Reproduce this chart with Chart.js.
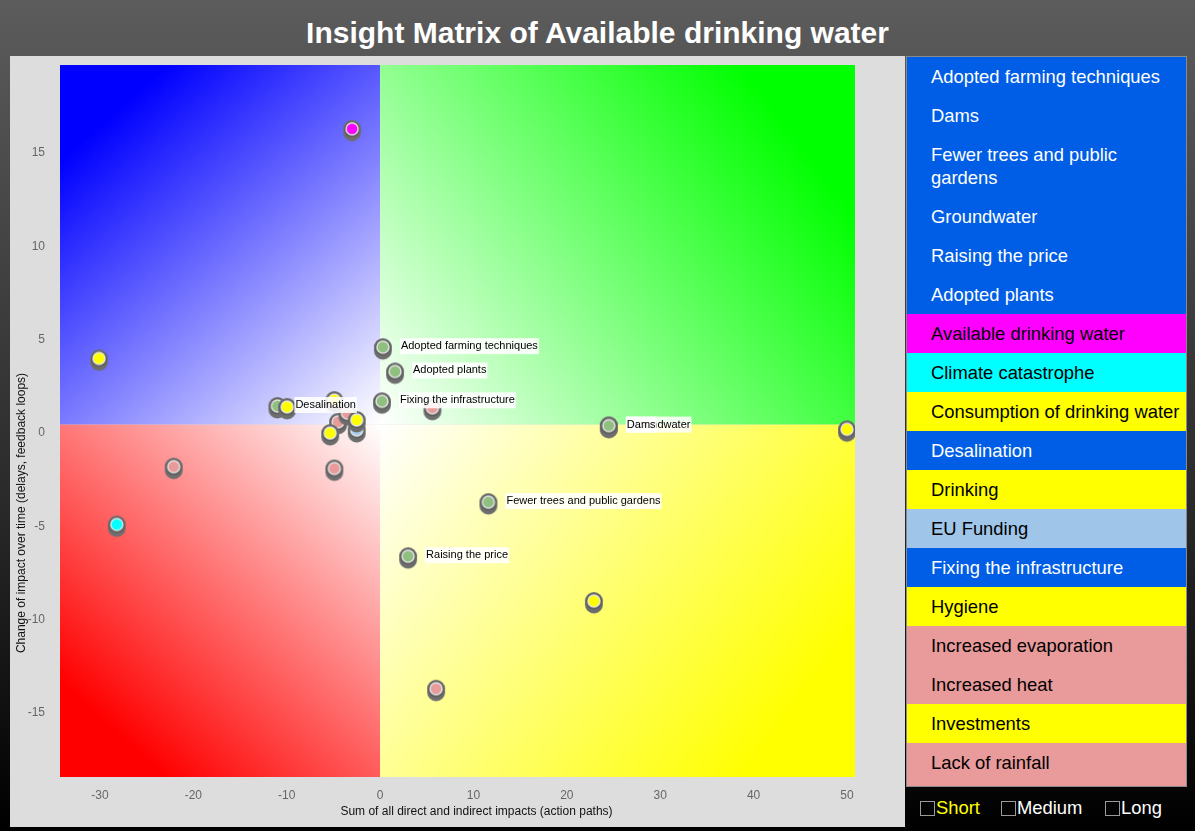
<!DOCTYPE html>
<html>
<head>
<meta charset="utf-8">
<script src="https://cdn.jsdelivr.net/npm/chart.js@4/dist/chart.umd.min.js"></script>
<style>
  html, body { margin: 0; padding: 0; }
  body {
    width: 1195px; height: 831px; overflow: hidden; position: relative;
    background: linear-gradient(to bottom, #5c5c5c 0%, #2a2a2a 60%, #000 100%);
    font-family: "Liberation Sans", Arial, Helvetica, sans-serif;
  }
  #title {
    position: absolute; left: 0; top: 13px; width: 1195px; text-align: center;
    color: #fff; font-weight: bold; font-size: 30px; line-height: 40px;
  }
  #panel {
    position: absolute; left: 10px; top: 56px; width: 895px; height: 771px;
    background: #dddddd;
  }
  #wrap { position: absolute; left: 10px; top: 52px; width: 895px; height: 775px; }
  #legend {
    position: absolute; left: 906px; top: 56px; width: 281px; height: 731px;
    border: 1px solid #8a8a8a; box-sizing: border-box; overflow: hidden;
  }
  .row {
    padding: 8px 2px 8px 24px; line-height: 23px; font-size: 18.4px;
  }
  #boxes { position: absolute; top: 797px; left: 0; font-size: 18.4px; line-height: 22px; }
  .cb { position: absolute; white-space: nowrap; color: #fff; }
  .cb i {
    display: inline-block; width: 15px; height: 15px; border: 1px solid #9a9a9a;
    box-sizing: border-box; vertical-align: -2px; margin-right: 1px;
  }
</style>
</head>
<body>
<div id="title">Insight Matrix of Available drinking water</div>
<div id="panel"></div>
<div id="wrap"><canvas id="matrix"></canvas></div>
<div id="legend"></div>
<div id="boxes"></div>
<script>
// ---- data ----
const greenNames = ['Adopted farming techniques', 'Dams', 'Fewer trees and public gardens', 'Groundwater',
                    'Raising the price', 'Adopted plants', 'Desalination', 'Fixing the infrastructure'];
const greenX = [0.3, 24.5, 11.6, 24.5, 3.0, 1.6, -11.0, 0.2];
const greenY = [4.6, 0.4, -3.7, 0.4, -6.6, 3.3, 1.45, 1.7];

const yellowX = [-30.1, 50.0, 22.9, -4.9, -2.5, -5.35, -9.96];
const yellowY = [4.0, 0.2, -9.0, 1.77, 0.7, 0.0, 1.4];

const pinkX = [-22.1, -4.9, 5.6, 6.0, -4.5, -3.5];
const pinkY = [-1.8, -1.9, 1.35, -13.7, 0.6, 1.07];

const euX = [-2.5], euY = [0.16];            // EU Funding
const climateX = [-28.2], climateY = [-4.9]; // Climate catastrophe
const waterX = [-3.0], waterY = [16.3];      // Available drinking water

const xTitle = 'Sum of all direct and indirect impacts (action paths)';
const yTitle = 'Change of impact over time (delays, feedback loops)';

const legendNames = ['Adopted farming techniques', 'Dams', 'Fewer trees and public gardens', 'Groundwater',
  'Raising the price', 'Adopted plants', 'Available drinking water', 'Climate catastrophe',
  'Consumption of drinking water', 'Desalination', 'Drinking', 'EU Funding', 'Fixing the infrastructure',
  'Hygiene', 'Increased evaporation', 'Increased heat', 'Investments', 'Lack of rainfall'];
const legendColors = ['#005ee6', '#005ee6', '#005ee6', '#005ee6', '#005ee6', '#005ee6', '#ff00ff', '#00ffff',
  '#ffff00', '#005ee6', '#ffff00', '#9fc5e8', '#005ee6', '#ffff00', '#e99a9a', '#e99a9a', '#ffff00', '#e99a9a'];
const horizons = ['Short', 'Medium', 'Long'];

// ---- legend panel ----
const legendEl = document.getElementById('legend');
legendEl.style.background = legendColors[legendColors.length - 1];
legendNames.forEach(function(name, i) {
  const row = document.createElement('div');
  row.className = 'row';
  row.textContent = name;
  row.style.background = legendColors[i];
  row.style.color = legendColors[i] === '#005ee6' ? '#fff' : '#000';
  legendEl.appendChild(row);
});
const boxLeft = [920, 1001, 1105];
const boxesEl = document.getElementById('boxes');
horizons.forEach(function(h, i) {
  const s = document.createElement('span');
  s.className = 'cb';
  s.style.left = boxLeft[i] + 'px';
  s.innerHTML = '<i></i>' + h;
  if (i === 0) s.style.color = '#ffff00';
  boxesEl.appendChild(s);
});

// ---- markers: colored dot with a grey "button" shadow ----
function marker(color) {
  const c = document.createElement('canvas');
  c.width = 24; c.height = 30;
  const g = c.getContext('2d');
  g.fillStyle = '#6e6e6e';
  g.beginPath(); g.arc(12, 18.5, 9, 0, Math.PI * 2); g.fill();
  g.beginPath(); g.arc(12, 15, 9, 0, Math.PI * 2); g.fill();
  g.fillStyle = '#5e5e5e';
  g.beginPath(); g.arc(12, 15.5, 8, 0, Math.PI * 2); g.fill();
  g.fillStyle = color;
  g.strokeStyle = 'rgba(235,235,235,0.9)';
  g.lineWidth = 1.5;
  g.beginPath(); g.arc(12, 15, 6, 0, Math.PI * 2); g.fill(); g.stroke();
  return c;
}

function pts(xs, ys) {
  return xs.map(function(x, i) { return { x: x, y: ys[i] }; });
}
function ds(label, xs, ys, color) {
  return { label: label, data: pts(xs, ys), pointStyle: marker(color), pointRadius: 12, showLine: false };
}

// ---- quadrant background ----
const quadrants = {
  id: 'quadrants',
  beforeDatasetsDraw(chart) {
    const a = chart.chartArea, ctx = chart.ctx;
    const cx = chart.scales.x.getPixelForValue(0);
    const cy = chart.scales.y.getPixelForValue(0.45);
    function quad(x0, y0, x1, y1, ox, oy, color) {
      const gr = ctx.createLinearGradient(ox, oy, cx, cy);
      gr.addColorStop(0, color);
      gr.addColorStop(0.15, color);
      gr.addColorStop(1, '#ffffff');
      ctx.fillStyle = gr;
      ctx.fillRect(x0, y0, x1 - x0, y1 - y0);
    }
    ctx.save();
    quad(a.left, a.top, cx, cy, a.left, a.top, '#0000ff');
    quad(cx, a.top, a.right, cy, a.right, a.top, '#00ff00');
    quad(a.left, cy, cx, a.bottom, a.left, a.bottom, '#ff0000');
    quad(cx, cy, a.right, a.bottom, a.right, a.bottom, '#ffff00');
    ctx.restore();
  }
};

// ---- labels next to the green factors + axis titles ----
const labels = {
  id: 'labels',
  afterDatasetsDraw(chart) {
    const ctx = chart.ctx;
    const meta = chart.getDatasetMeta(2);
    ctx.save();
    ctx.font = '11px "Liberation Sans", Arial, sans-serif';
    ctx.textBaseline = 'middle';
    for (let i = meta.data.length - 1; i >= 0; i--) {
      const p = meta.data[i];
      const tx = p.x + 18, ty = p.y - 1;
      const w = ctx.measureText(greenNames[i]).width;
      ctx.fillStyle = 'rgba(255,255,255,0.88)';
      ctx.fillRect(tx - 1, ty - 8, w + 2, 16);
      ctx.fillStyle = '#000';
      ctx.fillText(greenNames[i], tx, ty);
    }
    ctx.restore();
  },
  afterDraw(chart) {
    const ctx = chart.ctx, a = chart.chartArea;
    ctx.save();
    ctx.font = '12px "Liberation Sans", Arial, sans-serif';
    ctx.fillStyle = '#111';
    ctx.textAlign = 'center';
    ctx.textBaseline = 'middle';
    ctx.fillText(xTitle, (a.left + a.right) / 2 + 19, a.bottom + 35);
    ctx.translate(12, (a.top + a.bottom) / 2 + 92);
    ctx.rotate(-Math.PI / 2);
    ctx.fillText(yTitle, 0, 0);
    ctx.restore();
  }
};

const tickFont = { family: '"Liberation Sans", Arial, sans-serif', size: 12 };

new Chart(document.getElementById('matrix'), {
  type: 'scatter',
  data: {
    datasets: [
      ds('yellow', yellowX, yellowY, '#ffff00'),
      ds('pink', pinkX, pinkY, '#e99a9a'),
      ds('factors', greenX, greenY, '#8fc07f'),
      ds('EU Funding', euX, euY, '#a8cdf0'),
      ds('Climate catastrophe', climateX, climateY, '#00ffff'),
      ds('Available drinking water', waterX, waterY, '#ff00ff')
    ]
  },
  options: {
    responsive: true,
    maintainAspectRatio: false,
    animation: false,
    events: [],
    layout: { padding: { top: 5, right: 50, left: 0, bottom: 0 } },
    plugins: { legend: { display: false }, tooltip: { enabled: false } },
    scales: {
      x: {
        type: 'linear', min: -34.28, max: 50.86,
        grid: { display: false, drawTicks: false }, border: { display: false },
        ticks: { stepSize: 10, includeBounds: false, padding: 11, color: '#666', font: tickFont },
        afterFit(s) { s.height = 50; s.paddingLeft = 0; s.paddingRight = 0; }
      },
      y: {
        type: 'linear', min: -18.43, max: 19.72,
        grid: { display: false, drawTicks: false }, border: { display: false },
        ticks: { stepSize: 5, includeBounds: false, padding: 15, color: '#666', font: tickFont },
        afterFit(s) { s.width = 50; s.paddingTop = 0; s.paddingBottom = 0; }
      }
    }
  },
  plugins: [quadrants, labels]
});
</script>
</body>
</html>
